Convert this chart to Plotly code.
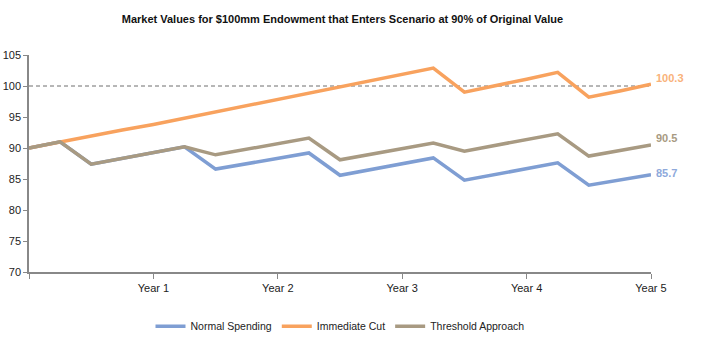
import plotly.graph_objects as go

quarters = list(range(21))
normal_spending = [90.0, 91.0, 87.4, 88.3, 89.2, 90.2, 86.6, 87.5, 88.4, 89.2, 85.6,
                   86.5, 87.4, 88.4, 84.8, 85.7, 86.6, 87.6, 84.0, 84.8, 85.7]
immediate_cut = [90.0, 91.0, 91.9, 92.9, 93.8, 94.8, 95.8, 96.8, 97.8, 98.8, 99.8,
                 100.8, 101.8, 102.9, 99.0, 100.0, 101.1, 102.2, 98.2, 99.2, 100.3]
threshold_approach = [90.0, 91.0, 87.4, 88.3, 89.2, 90.2, 88.9, 89.8, 90.7, 91.6, 88.1,
                      89.0, 89.9, 90.8, 89.5, 90.4, 91.3, 92.3, 88.7, 89.6, 90.5]
tick_positions = [0, 4, 8, 12, 16, 20]
tick_labels = ["", "Year 1", "Year 2", "Year 3", "Year 4", "Year 5"]
end_labels = ["85.7", "100.3", "90.5"]

series = [
    ("Normal Spending", normal_spending, "#7F9ED3", "#8EA9DB", 2),
    ("Immediate Cut", immediate_cut, "#F8A25E", "#F9B27A", 6),
    ("Threshold Approach", threshold_approach, "#A89A82", "#A89A82", 7),
]

font = "Liberation Sans Narrow, Arial Narrow, Liberation Sans, Arial, sans-serif"

fig = go.Figure()
fig.add_shape(type="line", xref="paper", x0=0, x1=1, yref="y", y0=100, y1=100,
              line=dict(color="#6e6e6e", width=1, dash="4px,3px"), layer="below")

for (name, vals, color, lcolor, ys), lab in zip(series, end_labels):
    fig.add_trace(go.Scatter(x=quarters, y=vals, mode="lines", name=name,
                             line=dict(color=color, width=3.5)))
    fig.add_annotation(x=quarters[-1], y=vals[-1], text="<b>" + lab + "</b>",
                       showarrow=False, xanchor="left", xshift=3, yshift=ys,
                       font=dict(family="Liberation Sans, Arial, sans-serif", size=11, color=lcolor))

fig.update_layout(
    width=706, height=353,
    margin=dict(l=29, r=55, t=55, b=81),
    paper_bgcolor="white", plot_bgcolor="white",
    title=dict(text="<b>Market Values for $100mm Endowment that Enters Scenario at 90% of Original Value</b>",
               x=0.485, xanchor="center", y=0.945, yanchor="middle",
               font=dict(family=font, size=11, color="#111111")),
    showlegend=True,
    legend=dict(orientation="h", x=0.5, xanchor="center", y=-0.25, yanchor="middle",
                font=dict(family=font, size=10.5, color="#222222"), itemwidth=30,
                tracegroupgap=0),
    font=dict(family=font, size=11, color="#222222"),
)
fig.update_xaxes(range=[0, 20], tickmode="array", tickvals=tick_positions, ticktext=tick_labels,
                 showline=True, linecolor="#888888", linewidth=1.5, ticks="outside",
                 tickcolor="#888888", ticklen=5, showgrid=False, zeroline=False, automargin=False,
                 tickfont=dict(family=font, size=11, color="#222222"))
fig.update_yaxes(range=[70, 105], tickvals=[70, 75, 80, 85, 90, 95, 100, 105],
                 showline=True, linecolor="#888888", linewidth=1.5, ticks="outside",
                 tickcolor="#888888", ticklen=4, showgrid=False, zeroline=False, automargin=False,
                 tickfont=dict(family=font, size=11, color="#222222"))

fig.write_html("out.html")
